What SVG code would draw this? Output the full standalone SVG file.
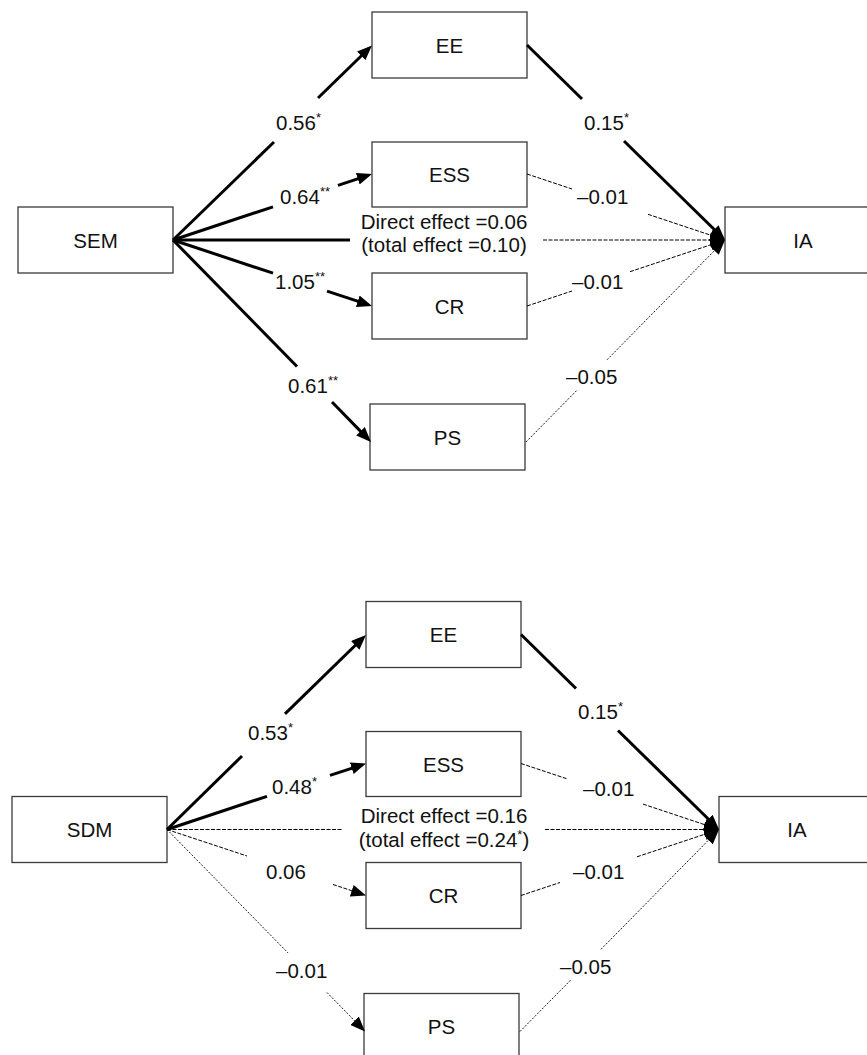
<svg xmlns="http://www.w3.org/2000/svg" width="867" height="1055" viewBox="0 0 867 1055">
<style>
.box { fill: #fff; stroke: #3a3a3a; stroke-width: 1.3; }
text { font-family: "Liberation Sans", Arial, sans-serif; font-size: 20.5px; fill: #111; }
.node text { text-anchor: middle; }
.mid { text-anchor: middle; }
.sup { font-size: 13px; }
.thick { stroke: #000; stroke-width: 3; fill: none; }
.dash { stroke: #000; stroke-width: 1; stroke-dasharray: 4 1.5; fill: none; }
.dot { stroke: #000; stroke-width: 0.9; stroke-dasharray: 2 1.5; fill: none; }
.arr { marker-end: url(#ah); }
</style>
<defs>
<marker id="ah" markerUnits="userSpaceOnUse" markerWidth="16" markerHeight="12" refX="11" refY="6" orient="auto" viewBox="0 0 16 12">
<path d="M0,0 L15,6 L0,12 z" fill="#000"/>
</marker>
</defs>
<rect x="0" y="0" width="867" height="1055" fill="#fff"/>

<!-- top diagram nodes -->
<g id="sem" class="node"><rect class="box" x="18" y="207" width="155" height="66"/><text x="95.5" y="247.5">SEM</text></g>
<g id="ee1" class="node"><rect class="box" x="372" y="12" width="155" height="66"/><text x="449.5" y="52.5">EE</text></g>
<g id="ess1" class="node"><rect class="box" x="372" y="142" width="155" height="65"/><text x="449.5" y="182">ESS</text></g>
<g id="cr1" class="node"><rect class="box" x="372" y="273" width="155" height="66"/><text x="449.5" y="313.5">CR</text></g>
<g id="ps1" class="node"><rect class="box" x="370" y="404" width="155" height="66"/><text x="447.5" y="444.5">PS</text></g>
<g id="ia1" class="node"><rect class="box" x="725" y="207" width="155" height="66"/><text x="803" y="247.5">IA</text></g>

<!-- bottom diagram nodes -->
<g id="sdm" class="node"><rect class="box" x="12" y="796.5" width="155" height="66"/><text x="89.5" y="837">SDM</text></g>
<g id="ee2" class="node"><rect class="box" x="366" y="601.5" width="155" height="66"/><text x="443.5" y="642">EE</text></g>
<g id="ess2" class="node"><rect class="box" x="366" y="731.5" width="155" height="65"/><text x="443.5" y="771.5">ESS</text></g>
<g id="cr2" class="node"><rect class="box" x="366" y="862.5" width="155" height="66"/><text x="443.5" y="903">CR</text></g>
<g id="ps2" class="node"><rect class="box" x="364" y="993.5" width="155" height="66"/><text x="441.5" y="1034">PS</text></g>
<g id="ia2" class="node"><rect class="box" x="719" y="796.5" width="155" height="66"/><text x="797" y="837">IA</text></g>

<g id="connectors">
  <g id="top-edges">
    <line class="thick" x1="173" y1="240" x2="274" y2="142"/>
    <line class="thick arr" x1="318" y1="98" x2="369.1" y2="48.2"/>
    <line class="thick" x1="173" y1="240" x2="273" y2="206.8"/>
    <line class="thick arr" x1="338" y1="185.3" x2="368.2" y2="175.3"/>
    <line class="thick" x1="173" y1="240" x2="350" y2="240"/>
    <line class="dash arr" x1="543" y1="240" x2="721" y2="240"/>
    <line class="thick" x1="173" y1="240" x2="273" y2="273.2"/>
    <line class="thick arr" x1="327" y1="291.1" x2="368.2" y2="304.7"/>
    <line class="thick" x1="173" y1="240" x2="297" y2="366.5"/>
    <line class="thick arr" x1="332" y1="402" x2="368.2" y2="439.1"/>
    <line class="thick" x1="527" y1="45" x2="582" y2="99"/>
    <line class="thick arr" x1="624" y1="141" x2="722.2" y2="237.2"/>
    <line class="dash" x1="527" y1="174" x2="572" y2="189"/>
    <line class="dash arr" x1="648" y1="214.3" x2="721.2" y2="238.7"/>
    <line class="dash" x1="527" y1="306" x2="572" y2="291"/>
    <line class="dash arr" x1="630" y1="271.7" x2="721.2" y2="241.3"/>
    <line class="dot" x1="526" y1="442" x2="577" y2="390.2"/>
    <line class="dot arr" x1="607" y1="359.8" x2="722.2" y2="242.8"/>
  </g>
  <g id="bottom-edges" transform="translate(-6,589.5)">
    <line class="thick" x1="173" y1="240" x2="248" y2="166.5"/>
    <line class="thick arr" x1="291" y1="124.4" x2="369.1" y2="48.2"/>
    <line class="thick" x1="173" y1="240" x2="273" y2="206.8"/>
    <line class="thick arr" x1="336" y1="185.9" x2="368.2" y2="175.3"/>
    <line class="dash" x1="173" y1="240" x2="348" y2="240"/>
    <line class="dash arr" x1="551" y1="240" x2="721" y2="240"/>
    <line class="dash" x1="173" y1="240" x2="253" y2="266.5"/>
    <line class="dash arr" x1="339" y1="295" x2="368.2" y2="304.7"/>
    <line class="dot" x1="173" y1="240" x2="294" y2="363.4"/>
    <line class="dot arr" x1="333" y1="403" x2="368.2" y2="439.1"/>
    <line class="thick" x1="527" y1="45" x2="582" y2="99"/>
    <line class="thick arr" x1="624" y1="141" x2="722.2" y2="237.2"/>
    <line class="dash" x1="527" y1="174" x2="573" y2="189.3"/>
    <line class="dash arr" x1="649" y1="214.6" x2="721.2" y2="238.7"/>
    <line class="dash" x1="527" y1="306" x2="566" y2="293"/>
    <line class="dash arr" x1="643" y1="267.3" x2="721.2" y2="241.3"/>
    <line class="dot" x1="526" y1="442" x2="577" y2="390.2"/>
    <line class="dot arr" x1="607" y1="359.8" x2="722.2" y2="242.8"/>
  </g>
  <g id="top-labels">
    <text x="276" y="130">0.56<tspan class="sup" dy="-8">*</tspan></text>
    <text x="280" y="204">0.64<tspan class="sup" dy="-8">**</tspan></text>
    <text x="275" y="289">1.05<tspan class="sup" dy="-8">**</tspan></text>
    <text x="288" y="393">0.61<tspan class="sup" dy="-8">**</tspan></text>
    <text x="584" y="130">0.15<tspan class="sup" dy="-8">*</tspan></text>
    <text x="577" y="204">–0.01</text>
    <text x="572" y="289">–0.01</text>
    <text x="566" y="384">–0.05</text>
    <text class="mid" x="444" y="229">Direct effect =0.06</text>
    <text class="mid" x="444" y="252">(total effect =0.10)</text>
  </g>
  <g id="bottom-labels">
    <text x="248" y="740">0.53<tspan class="sup" dy="-8">*</tspan></text>
    <text x="272" y="794">0.48<tspan class="sup" dy="-8">*</tspan></text>
    <text x="266" y="879">0.06</text>
    <text x="276" y="978">–0.01</text>
    <text x="578" y="719">0.15<tspan class="sup" dy="-8">*</tspan></text>
    <text x="583" y="796">–0.01</text>
    <text x="573" y="879">–0.01</text>
    <text x="560" y="973.5">–0.05</text>
    <text class="mid" x="444" y="823">Direct effect =0.16</text>
    <text class="mid" x="444" y="847">(total effect =0.24<tspan class="sup" dy="-8">*</tspan><tspan dy="8">)</tspan></text>
  </g>
</g>
</svg>
